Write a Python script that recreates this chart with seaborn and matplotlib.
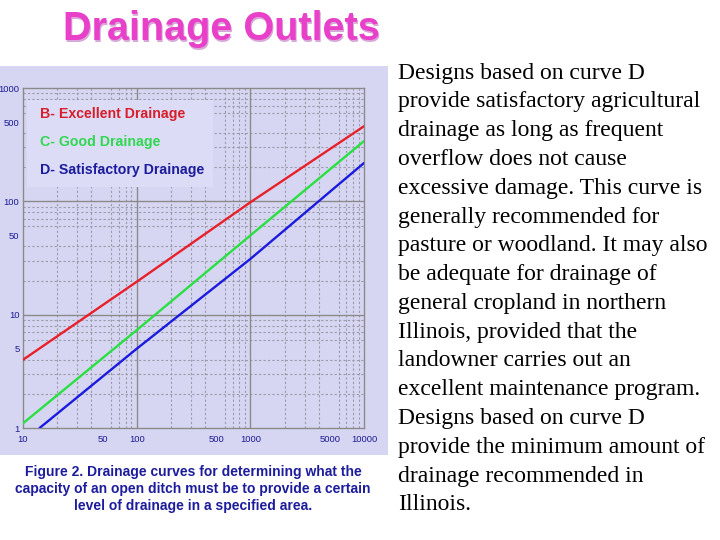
import numpy as np
import pandas as pd
import matplotlib
matplotlib.use("Agg")
import matplotlib.pyplot as plt
import seaborn as sns
from matplotlib.patches import Rectangle
from matplotlib.ticker import FixedLocator, FixedFormatter, LogLocator, NullFormatter

# ---- data ----
area_b = [10, 100, 1000, 10000]
cap_b = [4.0, 19.5, 98, 460]
area_c = [10, 100, 1000, 10000]
cap_c = [1.1, 7.3, 50, 340]
area_d = [14, 100, 1000, 10000]
cap_d = [1.0, 5.0, 31, 218]
curve_names = ["B- Excellent Drainage", "C- Good Drainage", "D- Satisfactory Drainage"]
curve_colors = ["#e8202a", "#28e040", "#1a1ae0"]
legend_colors = ["#d81e2a", "#30d850", "#1c1c9c"]
x_ticks = [10, 50, 100, 500, 1000, 5000, 10000]
x_ticklabels = ["10", "50", "100", "500", "1000", "5000", "10000"]
y_ticks = [1, 5, 10, 50, 100, 500, 1000]
y_ticklabels = ["1", "5", "10", "50", "100", "500", "1000"]
title = "Drainage Outlets"
caption_lines = ["Figure 2. Drainage curves for determining what the",
                 "capacity of an open ditch must be to provide a certain",
                 "level of drainage in a specified area."]
body_lines = ["Designs based on curve D",
              "provide satisfactory agricultural",
              "drainage as long as frequent",
              "overflow does not cause",
              "excessive damage. This curve is",
              "generally recommended for",
              "pasture or woodland. It may also",
              "be adequate for drainage of",
              "general cropland in northern",
              "Illinois, provided that the",
              "landowner carries out an",
              "excellent maintenance program.",
              "Designs based on curve D",
              "provide the minimum amount of",
              "drainage recommended in",
              "Illinois."]

df = pd.concat([
    pd.DataFrame({"area": area_b, "cap": cap_b, "curve": curve_names[0]}),
    pd.DataFrame({"area": area_c, "cap": cap_c, "curve": curve_names[1]}),
    pd.DataFrame({"area": area_d, "cap": cap_d, "curve": curve_names[2]}),
])

sns.set_style("white")
plt.rcParams["font.family"] = ["Liberation Sans", "DejaVu Sans"]

W, H = 720, 540
fig = plt.figure(figsize=(7.2, 5.4), dpi=100)
fig.patch.set_facecolor("white")

def fx(px): return px / W
def fy(py): return 1 - py / H

# lavender panel behind the chart
panel_col = "#d6d6f2"
fig.patches.append(Rectangle((fx(0), fy(455)), fx(388), (455 - 66) / H,
                             transform=fig.transFigure, facecolor=panel_col,
                             edgecolor="none", zorder=-5))

ax = fig.add_axes([fx(23), fy(428), fx(364 - 23), (428 - 88) / H])
ax.set_zorder(1)
ax.set_facecolor(panel_col)
ax.set_xscale("log")
ax.set_yscale("log")

sns.lineplot(data=df, x="area", y="cap", hue="curve", hue_order=curve_names,
             palette=curve_colors, legend=False, ax=ax, linewidth=1.7, zorder=5)

ax.set_xlim(10, 10000)
ax.set_ylim(1, 1000)
ax.xaxis.set_major_locator(FixedLocator(x_ticks))
ax.xaxis.set_major_formatter(FixedFormatter(x_ticklabels))
ax.yaxis.set_major_locator(FixedLocator(y_ticks))
ax.yaxis.set_major_formatter(FixedFormatter(y_ticklabels))
ax.xaxis.set_minor_locator(LogLocator(base=10, subs=np.arange(2, 10)))
ax.yaxis.set_minor_locator(LogLocator(base=10, subs=np.arange(2, 10)))
ax.xaxis.set_minor_formatter(NullFormatter())
ax.yaxis.set_minor_formatter(NullFormatter())
ax.set_xlabel("")
ax.set_ylabel("")
tick_col = "#1c1c96"
ax.tick_params(axis="both", which="both", length=0, labelsize=6.8, colors=tick_col)
ax.tick_params(axis="x", pad=5)
ax.tick_params(axis="y", pad=2.5)

# grid: dashed minor everywhere, solid at decades
ax.grid(True, which="minor", color="#9a9aa8", linestyle=(0, (2, 2)), linewidth=0.8)
for v in [100, 1000]:
    ax.axvline(v, color="#8a8a8a", linewidth=1.0, zorder=1)
for v in [10, 100]:
    ax.axhline(v, color="#8a8a8a", linewidth=1.0, zorder=1)
ax.set_axisbelow(True)
for s in ax.spines.values():
    s.set_color("#8a8a8a")
    s.set_linewidth(1.0)

# legend box as in the figure
fig.patches.append(Rectangle((fx(27), fy(187)), fx(213 - 27), (187 - 100) / H,
                             transform=fig.transFigure, facecolor="#dcdcf6",
                             edgecolor="none", zorder=3))
for i, (name, c) in enumerate(zip(curve_names, legend_colors)):
    fig.text(fx(40), fy(114 + 28 * i), name, color=c, fontsize=10.2,
             fontweight="bold", ha="left", va="center", zorder=4)

# title with soft shadow
fig.text(fx(222.5), fy(31), title, color="#d8a8d8", fontsize=28.5,
         fontweight="bold", ha="center", va="center")
fig.text(fx(221), fy(29.5), title, color="#e840c8", fontsize=28.5,
         fontweight="bold", ha="center", va="center")

# caption
for i, line in enumerate(caption_lines):
    fig.text(fx(193), fy(472 + 17 * i), line, color="#1c1c9c", fontsize=10,
             fontweight="bold", ha="center", va="center")

# body text
for i, line in enumerate(body_lines):
    fig.text(fx(398), fy(73 + 28.8 * i), line, color="black", fontsize=17,
             family=["Liberation Serif", "DejaVu Serif"], ha="left", va="center")

fig.savefig("out.png", dpi=100)
